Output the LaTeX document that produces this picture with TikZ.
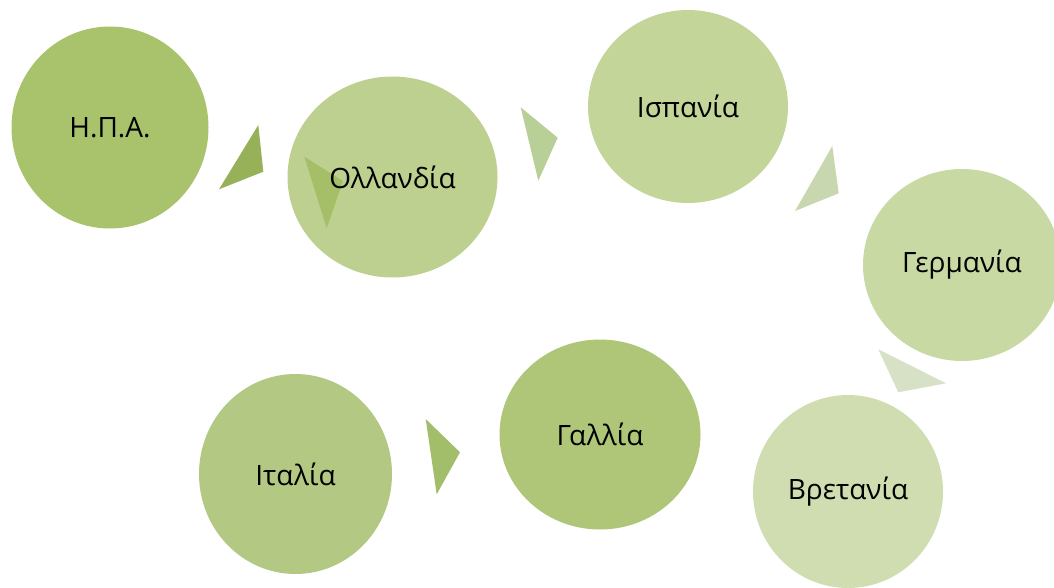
\documentclass[tikz,border=0pt]{standalone}
\usepackage{fontspec}
\setmainfont{Open Sans}
\usetikzlibrary{shapes.geometric}
\definecolor{cA}{HTML}{A9C36D}
\definecolor{cB}{HTML}{BDD08F}
\definecolor{cC}{HTML}{C3D599}
\definecolor{cD}{HTML}{C9D9A3}
\definecolor{cE}{HTML}{D0DDB0}
\definecolor{cF}{HTML}{AFC678}
\definecolor{cG}{HTML}{B3C983}
\definecolor{tA}{HTML}{97B158}
\definecolor{tB}{HTML}{A5BF68}
\definecolor{tC}{HTML}{B9CF98}
\definecolor{tD}{HTML}{C8D7B0}
\definecolor{tE}{HTML}{D6E1C5}
\definecolor{tF}{HTML}{A3BE6B}
\tikzset{
  circ/.style={ellipse, draw=none, inner sep=0pt},
  lbl/.style={font=\fontsize{28}{33}\selectfont, text=black, inner sep=0pt},
}
\begin{document}
\begin{tikzpicture}[x=1pt,y=-1pt]
\useasboundingbox (0,0) rectangle (1054,588);
% circles
\node[circ, fill=cA, minimum width=197pt, minimum height=202pt] (usa) at (110,127.5) {};
\node[circ, fill=cB, minimum width=210pt, minimum height=201pt] (ned) at (392.5,177) {};
\node[circ, fill=cC, minimum width=200pt, minimum height=193pt] (esp) at (688,106.5) {};
\node[circ, fill=cD, minimum width=198pt, minimum height=192pt] (ger) at (962,265) {};
\node[circ, fill=cE, minimum width=190pt, minimum height=193pt] (gbr) at (848,491.5) {};
\node[circ, fill=cF, minimum width=201pt, minimum height=190pt] (fra) at (600,434.5) {};
\node[circ, fill=cG, minimum width=193pt, minimum height=200pt] (ita) at (295.5,474) {};
% arrow triangles
\fill[tA] (258.3,125) -- (263.3,171.7) -- (219,189.3) -- cycle;
\fill[tB] (304.3,156.7) -- (343,181) -- (326.7,228.3) -- cycle;
\fill[tC] (520.7,107.3) -- (557.7,137.7) -- (538.3,180.7) -- cycle;
\fill[tD] (832.3,146) -- (838.7,193.3) -- (795,211) -- cycle;
\fill[tE] (878.3,349.3) -- (946,383.3) -- (898.3,392.3) -- cycle;
\fill[tF] (425.7,419) -- (460,452.3) -- (436.7,494.3) -- cycle;
% labels
\node[lbl] (usaL) at (usa) {Η.Π.Α.};
\node[lbl] (nedL) at (ned) {Ολλανδία};
\node[lbl] (espL) at (esp) {Ισπανία};
\node[lbl] (gerL) at (ger) {Γερμανία};
\node[lbl] (gbrL) at (gbr) {Βρετανία};
\node[lbl] (fraL) at (fra) {Γαλλία};
\node[lbl] (itaL) at (ita) {Ιταλία};
\end{tikzpicture}
\end{document}
